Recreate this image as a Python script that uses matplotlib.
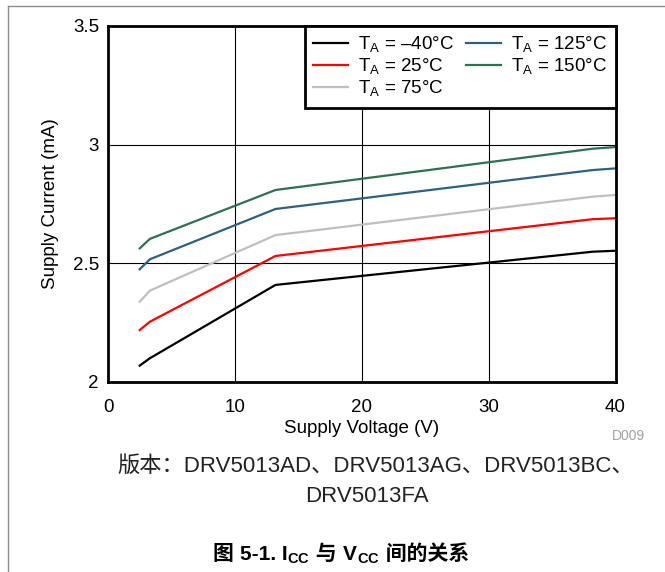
import matplotlib
matplotlib.use('Agg')
import matplotlib.pyplot as plt
from matplotlib.offsetbox import TextArea, HPacker, AnchoredOffsetbox

plt.rcParams['font.family'] = ['Liberation Sans', 'Noto Sans CJK SC', 'DejaVu Sans']
plt.rcParams['mathtext.fontset'] = 'custom'
plt.rcParams['mathtext.rm'] = 'Liberation Sans'
plt.rcParams['mathtext.bf'] = 'Liberation Sans:bold'

# supply voltage (V) sample points
vcc = [2.5, 3.3, 13.2, 38.2, 40]

# supply current (mA) per temperature
icc_m40 = [2.069, 2.100, 2.409, 2.549, 2.553]
icc_25 = [2.219, 2.254, 2.531, 2.686, 2.690]
icc_75 = [2.338, 2.385, 2.619, 2.781, 2.788]
icc_125 = [2.475, 2.517, 2.729, 2.893, 2.900]
icc_150 = [2.563, 2.603, 2.809, 2.983, 2.990]

labels = ['–40°C', '25°C', '75°C', '125°C', '150°C']
colors = ['#000000', '#ff0000', '#bfbfbf', '#2f607f', '#2f7050']
series = [icc_m40, icc_25, icc_75, icc_125, icc_150]

fig = plt.figure(figsize=(6.65, 5.72), dpi=100)

# thin grey page border (left and top)
fig.add_artist(plt.Line2D([8/665, 8/665], [0, 1 - 6/572], transform=fig.transFigure,
                          color='#8c8c8c', lw=1))
fig.add_artist(plt.Line2D([8/665, 1], [1 - 6/572, 1 - 6/572], transform=fig.transFigure,
                          color='#8c8c8c', lw=1))

ax = fig.add_axes([108/665, 1 - 382/572, 507.5/665, 356/572])

for y, lab, c in zip(series, labels, colors):
    ax.plot(vcc, y, color=c, lw=1.6, label=r'T$_\mathregular{A}$ = ' + lab)

ax.set_xlim(0, 40)
ax.set_ylim(2, 3.5)
ax.set_xticks([0, 10, 20, 30, 40])
ax.set_yticks([2, 2.5, 3, 3.5])
ax.set_yticklabels(['2', '2.5', '3', '3.5'])
ax.grid(True, color='black', lw=0.8)
ax.tick_params(length=0, labelsize=13.5)
ax.tick_params(axis='x', pad=12)
ax.tick_params(axis='y', pad=6.5)
for s in ax.spines.values():
    s.set_linewidth(2)
    s.set_zorder(5)

ax.set_xlabel('Supply Voltage (V)', fontsize=13.5, labelpad=3)
ax.set_ylabel('Supply Current (mA)', fontsize=13.5, labelpad=10)

leg = ax.legend(loc='upper right', ncol=2, fontsize=13.5, borderaxespad=0,
                fancybox=False, handlelength=1.85, handletextpad=0.55,
                columnspacing=0.65, labelspacing=0.1, borderpad=0.45)
leg.get_frame().set_edgecolor('black')
leg.get_frame().set_linewidth(2)
leg.get_frame().set_alpha(1)
leg.set_zorder(6)

fig.text(612/665, 1 - 436/572, 'D009', color='#a0a0a0', fontsize=10, ha='left', va='center')

fig.text(376/665, 1 - 466/572, '版本：DRV5013AD、DRV5013AG、DRV5013BC、',
         fontsize=16, ha='center', va='center', color='#222222')
fig.text(367/665, 1 - 497/572, 'DRV5013FA',
         fontsize=16, ha='center', va='center', color='#222222')

# caption title built from pieces so CJK and subscripts can mix
tprops = dict(fontsize=15, fontweight='bold', color='black')
pieces = ['图 ', '5-1. I', r'$\mathbf{_{CC}}$', ' 与 ', 'V', r'$\mathbf{_{CC}}$', ' 间的关系']
boxes = [TextArea(p, textprops=tprops) for p in pieces]
title_box = HPacker(children=boxes, align='baseline', pad=0, sep=0)
anch = AnchoredOffsetbox(loc='center', child=title_box, frameon=False,
                         bbox_to_anchor=(341/665, 1 - 555/572),
                         bbox_transform=fig.transFigure, borderpad=0, pad=0)
fig.add_artist(anch)

fig.savefig('out.png', dpi=100)
